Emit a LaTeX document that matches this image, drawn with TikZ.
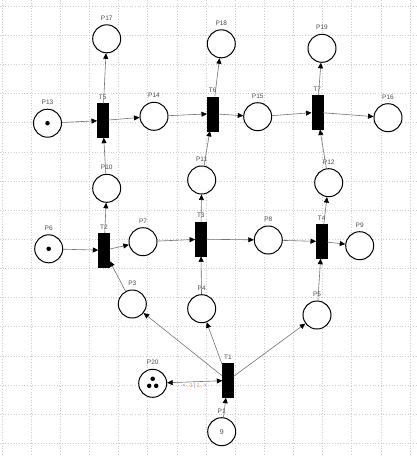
\documentclass[tikz,border=0pt]{standalone}
\usepackage{fontspec}
\setmainfont{Liberation Sans}
\usetikzlibrary{arrows.meta}
\tikzset{
  place/.style={circle,draw=black,line width=1pt,minimum size=28pt,inner sep=0pt,fill=white},
  trans/.style={rectangle,draw=black,fill=black,minimum width=11pt,minimum height=34pt,inner sep=0pt},
  lbl/.style={font=\fontsize{6.5}{7}\selectfont,text=black!70},
  tip/.style={Triangle[length=5.5pt,width=5pt,color=black]},
  arc/.style={draw=black!55,line width=0.6pt,-{Triangle[length=5.5pt,width=5pt,color=black]}},
  arcd/.style={draw=black!55,line width=0.6pt,{Triangle[length=5.5pt,width=5pt,color=black]}-{Triangle[length=5.5pt,width=5pt,color=black]}},
  tok/.style={circle,fill=black,inner sep=0pt,minimum size=4.5pt},
  gridline/.style={draw=black!20,line width=0.5pt,dash pattern=on 0.7pt off 2pt}
}
\begin{document}
\begin{tikzpicture}[x=1pt,y=-1pt]
\useasboundingbox[fill=white] (0,0) rectangle (416,456);
\foreach \i in {0,...,14} \draw[gridline] ({1.85+29.15*\i},0) -- ({1.85+29.15*\i},456);
\foreach \j in {0,...,15} \draw[gridline] (0,{6+29.15*\j}) -- (416,{6+29.15*\j});
% places
\node[place,label={[lbl,label distance=0.5pt]above:P17}] (P17) at (106.7,38.8) {};
\node[place,label={[lbl,label distance=0.5pt]above:P18}] (P18) at (221.3,43.8) {};
\node[place,label={[lbl,label distance=0.5pt]above:P19}] (P19) at (322,48.3) {};
\node[place,label={[lbl,label distance=0.5pt]above:P13}] (P13) at (47.5,123.2) {};
\node[place,label={[lbl,label distance=0.5pt]above:P14}] (P14) at (154,116.3) {};
\node[place,label={[lbl,label distance=0.5pt]above:P15}] (P15) at (257.7,116.7) {};
\node[place,label={[lbl,label distance=0.5pt]above:P16}] (P16) at (388,117.7) {};
\node[place,label={[lbl,label distance=0.5pt]above:P10}] (P10) at (106.7,188.3) {};
\node[place,label={[lbl,label distance=0.5pt]above:P11}] (P11) at (201.7,180) {};
\node[place,label={[lbl,label distance=0.5pt]above:P12}] (P12) at (328.7,182.7) {};
\node[place,label={[lbl,label distance=0.5pt]above:P6}] (P6) at (48.7,248.8) {};
\node[place,label={[lbl,label distance=0.5pt]above:P7}] (P7) at (143,241.7) {};
\node[place,label={[lbl,label distance=0.5pt]above:P8}] (P8) at (268.3,240) {};
\node[place,label={[lbl,label distance=0.5pt]above:P9}] (P9) at (359.7,245.7) {};
\node[place,label={[lbl,label distance=0.5pt]above:P3}] (P3) at (132.3,304) {};
\node[place,label={[lbl,label distance=0.5pt]above:P4}] (P4) at (201.7,308.7) {};
\node[place,label={[lbl,label distance=0.5pt]above:P5}] (P5) at (317,315) {};
\node[place,label={[lbl,label distance=0.5pt]above:P20}] (P20) at (152.7,383.3) {};
\node[place,label={[lbl,label distance=0.5pt]above:P1},text=black!70,font=\fontsize{7}{8}\selectfont] (P1) at (221.7,431.7) {9};
% tokens
\node[tok] (k13) at (47.5,123.2) {};
\node[tok] (k6) at (48.7,248.8) {};
\node[tok] (k20a) at (152.7,378.8) {};
\node[tok] (k20b) at (149.2,385.8) {};
\node[tok] (k20c) at (156.2,385.8) {};
% transitions
\node[trans,label={[lbl,label distance=0.5pt]above:T5}] (T5) at (102.7,120.5) {};
\node[trans,label={[lbl,label distance=0.5pt]above:T6}] (T6) at (212.7,113.7) {};
\node[trans,label={[lbl,label distance=0.5pt]above:T7}] (T7) at (317.2,112.3) {};
\node[trans,label={[lbl,label distance=0.5pt]above:T2}] (T2) at (104,250.3) {};
\node[trans,label={[lbl,label distance=0.5pt]above:T3}] (T3) at (200.8,239.2) {};
\node[trans,label={[lbl,label distance=0.5pt]above:T4}] (T4) at (321.7,241.5) {};
\node[trans,label={[lbl,label distance=0.5pt]above:T1}] (T1) at (228,380.5) {};
% arcs
\draw[arc] (P13) -- (T5);
\draw[arc] (T5) -- (P14);
\draw[arc] (T5) -- (P17);
\draw[arc] (P14) -- (T6);
\draw[arc] (T6) -- (P15);
\draw[arc] (T6) -- (P18);
\draw[arc] (P15) -- (T7);
\draw[arc] (T7) -- (P16);
\draw[arc] (T7) -- (P19);
\draw[arc] (P10) -- (T5);
\draw[arc] (P11) -- (T6);
\draw[arc] (P12) -- (T7);
\draw[arc] (P6) -- (T2);
\draw[arc] (T2) -- (P7);
\draw[arc] (T2) -- (P10);
\draw[arc] (P3) -- (T2);
\draw[arc] (P7) -- (T3);
\draw[arc] (T3) -- (P8);
\draw[arc] (T3) -- (P11);
\draw[arc] (P4) -- (T3);
\draw[arc] (P8) -- (T4);
\draw[arc] (T4) -- (P9);
\draw[arc] (T4) -- (P12);
\draw[arc] (P5) -- (T4);
\draw[arc] (T1) -- (P3);
\draw[arc] (T1) -- (P4);
\draw[arc] (T1) -- (P5);
\draw[arc] (P1) -- (T1);
\draw[arcd] (P20) -- node[below=1pt,font=\fontsize{6}{6}\selectfont,inner sep=0pt] (w) {\textcolor{black!40}{<}\,\textcolor{blue!55}{,}\,\textcolor{orange!80}{1}\,\textcolor{blue!50}{|}\,\textcolor{orange!80}{1}\,\textcolor{black!40}{,}\,\textcolor{black!40}{>}} (T1);
\end{tikzpicture}
\end{document}
